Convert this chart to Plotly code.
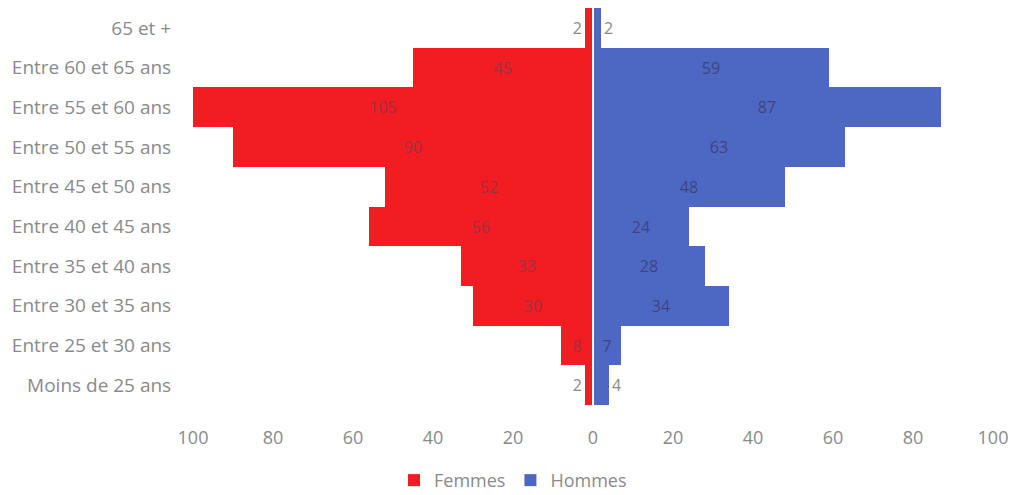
import plotly.graph_objects as go

# Age groups, top to bottom
age_groups = [
    "65 et +",
    "Entre 60 et 65 ans",
    "Entre 55 et 60 ans",
    "Entre 50 et 55 ans",
    "Entre 45 et 50 ans",
    "Entre 40 et 45 ans",
    "Entre 35 et 40 ans",
    "Entre 30 et 35 ans",
    "Entre 25 et 30 ans",
    "Moins de 25 ans",
]
femmes = [2, 45, 105, 90, 52, 56, 33, 30, 8, 2]
hommes = [2, 59, 87, 63, 48, 24, 28, 34, 7, 4]

tick_vals = [-100, -80, -60, -40, -20, 0, 20, 40, 60, 80, 100]
tick_text = ["100", "80", "60", "40", "20", "0", "20", "40", "60", "80", "100"]

RED = "#f21d22"
BLUE = "#4d68c2"
GREY = "#8a8a8a"
FONT = "Open Sans"
SIZE = 18


def label_positions(values):
    # very thin bars get their label beside the bar
    return ["outside" if v < 5 else "inside" for v in values]


fig = go.Figure()
fig.add_trace(go.Bar(
    y=age_groups,
    x=[-v for v in femmes],
    orientation="h",
    name="Femmes",
    marker=dict(color=RED, line=dict(width=0)),
    text=[str(v) for v in femmes],
    textposition=label_positions(femmes),
    insidetextanchor="middle",
    insidetextfont=dict(color="#9e3040", size=16, family=FONT),
    outsidetextfont=dict(color=GREY, size=SIZE, family=FONT),
    cliponaxis=True,
))
fig.add_trace(go.Bar(
    y=age_groups,
    x=hommes,
    orientation="h",
    name="Hommes",
    marker=dict(color=BLUE, line=dict(width=0)),
    text=[str(v) for v in hommes],
    textposition=label_positions(hommes),
    insidetextanchor="middle",
    insidetextfont=dict(color="#40447e", size=16, family=FONT),
    outsidetextfont=dict(color=GREY, size=SIZE, family=FONT),
    cliponaxis=True,
))

# thin white separation between the two halves of the pyramid
fig.add_shape(
    type="line", xref="x", yref="paper",
    x0=0, x1=0, y0=0, y1=1,
    line=dict(color="white", width=2),
    layer="above",
)

fig.update_layout(
    width=1013,
    height=495,
    barmode="overlay",
    bargap=0,
    plot_bgcolor="white",
    paper_bgcolor="white",
    margin=dict(l=193, r=20, t=8, b=90, autoexpand=False),
    font=dict(family=FONT, size=SIZE, color=GREY),
    uniformtext=dict(minsize=14, mode="show"),
    legend=dict(
        orientation="h",
        x=0.40, xanchor="center",
        y=-0.19, yanchor="middle",
        font=dict(size=SIZE, color=GREY),
        itemwidth=30,
        traceorder="normal",
    ),
    xaxis=dict(
        range=[-100, 100],
        tickvals=tick_vals,
        ticktext=tick_text,
        showgrid=False,
        zeroline=False,
        showline=False,
        ticks="outside",
        ticklen=16,
        tickcolor="rgba(0,0,0,0)",
        tickfont=dict(size=SIZE, color=GREY),
        automargin=False,
        fixedrange=True,
    ),
    yaxis=dict(
        categoryorder="array",
        categoryarray=age_groups[::-1],
        showgrid=False,
        zeroline=False,
        showline=False,
        ticks="outside",
        ticklen=17,
        tickcolor="rgba(0,0,0,0)",
        tickfont=dict(size=19, color=GREY),
        automargin=False,
    ),
)

fig.write_html("out.html")
